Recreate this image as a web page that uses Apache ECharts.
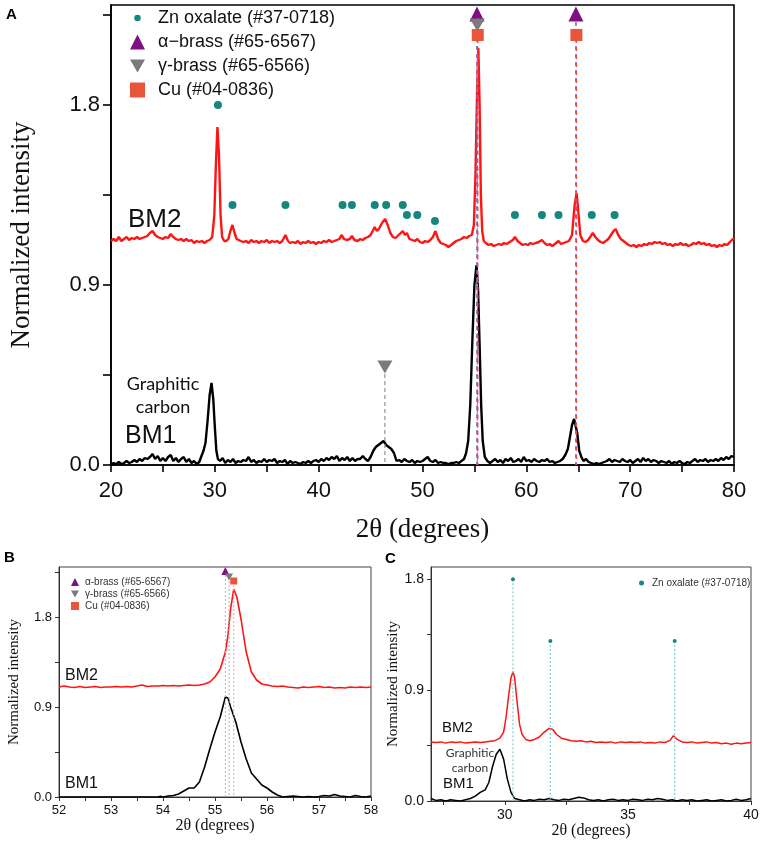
<!DOCTYPE html>
<html>
<head>
<meta charset="utf-8">
<script src="https://cdn.jsdelivr.net/npm/echarts@6/dist/echarts.min.js"></script>
<style>
  html, body { margin: 0; padding: 0; background: #fff; }
  #main { width: 765px; height: 843px; }
</style>
</head>
<body>
<div id="main"></div>
<script>
// 数据：[2θ, 归一化强度]
var bm2A = [[20,1.12],[20.25,1.13],[20.5,1.12],[20.75,1.14],[21,1.12],[21.25,1.13],[21.5,1.14],[21.75,1.125],[22,1.135],[22.25,1.13],[22.5,1.14],[22.75,1.13],[23,1.135],[23.25,1.14],[23.5,1.145],[23.75,1.16],[24,1.17],[24.25,1.15],[24.5,1.14],[24.75,1.135],[25,1.13],[25.25,1.14],[25.5,1.135],[25.75,1.155],[26,1.14],[26.25,1.13],[26.5,1.125],[26.75,1.13],[27,1.12],[27.25,1.13],[27.5,1.12],[27.75,1.125],[28,1.11],[28.25,1.12],[28.5,1.115],[28.75,1.12],[29,1.11],[29.25,1.12],[29.5,1.125],[29.75,1.14],[29.95,1.25],[30.1,1.5],[30.25,1.69],[30.4,1.55],[30.55,1.25],[30.7,1.14],[30.9,1.12],[31.1,1.12],[31.3,1.13],[31.5,1.17],[31.7,1.2],[31.9,1.16],[32.1,1.13],[32.3,1.125],[32.5,1.12],[32.75,1.115],[33,1.12],[33.25,1.11],[33.5,1.125],[33.75,1.115],[34,1.12],[34.25,1.11],[34.5,1.12],[34.75,1.115],[35,1.125],[35.25,1.11],[35.5,1.12],[35.75,1.115],[36,1.12],[36.25,1.11],[36.5,1.12],[36.8,1.15],[37.05,1.12],[37.25,1.11],[37.5,1.115],[37.75,1.11],[38,1.12],[38.25,1.105],[38.5,1.115],[38.75,1.11],[39,1.12],[39.25,1.11],[39.5,1.115],[39.75,1.105],[40,1.115],[40.25,1.11],[40.5,1.12],[40.75,1.115],[41,1.125],[41.25,1.115],[41.5,1.12],[41.75,1.125],[42,1.13],[42.2,1.15],[42.45,1.13],[42.7,1.125],[43,1.13],[43.2,1.145],[43.45,1.125],[43.75,1.12],[44,1.13],[44.25,1.125],[44.5,1.135],[44.75,1.14],[45,1.15],[45.2,1.17],[45.4,1.19],[45.6,1.17],[45.8,1.18],[46.1,1.21],[46.4,1.23],[46.65,1.2],[46.9,1.16],[47.15,1.14],[47.4,1.135],[47.7,1.15],[48.1,1.17],[48.3,1.15],[48.5,1.16],[48.75,1.13],[49,1.125],[49.25,1.12],[49.5,1.13],[49.75,1.115],[50,1.11],[50.25,1.12],[50.5,1.115],[50.75,1.125],[51,1.14],[51.25,1.17],[51.5,1.13],[51.75,1.11],[52,1.105],[52.25,1.1],[52.5,1.09],[52.75,1.1],[53,1.11],[53.25,1.12],[53.5,1.125],[53.75,1.13],[54,1.14],[54.25,1.135],[54.5,1.145],[54.75,1.15],[54.95,1.2],[55.1,1.45],[55.25,1.85],[55.38,2.085],[55.5,1.8],[55.62,1.35],[55.75,1.17],[55.9,1.12],[56.1,1.11],[56.35,1.1],[56.6,1.105],[56.85,1.095],[57.1,1.1],[57.35,1.105],[57.6,1.1],[57.85,1.11],[58.1,1.105],[58.4,1.115],[58.7,1.125],[58.9,1.14],[59.15,1.12],[59.4,1.11],[59.65,1.1],[59.9,1.105],[60.15,1.1],[60.4,1.11],[60.65,1.105],[60.9,1.11],[61.2,1.115],[61.5,1.125],[61.75,1.11],[62,1.1],[62.25,1.105],[62.5,1.095],[62.75,1.105],[63.1,1.12],[63.35,1.105],[63.6,1.11],[63.85,1.115],[64.1,1.12],[64.4,1.15],[64.65,1.3],[64.85,1.36],[65.0,1.27],[65.2,1.15],[65.45,1.12],[65.7,1.115],[65.95,1.125],[66.15,1.14],[66.4,1.16],[66.65,1.14],[66.9,1.125],[67.15,1.115],[67.4,1.11],[67.65,1.12],[67.9,1.13],[68.15,1.15],[68.4,1.17],[68.6,1.18],[68.85,1.15],[69.1,1.13],[69.35,1.12],[69.6,1.11],[69.85,1.1],[70.1,1.095],[70.35,1.1],[70.6,1.09],[70.85,1.1],[71.1,1.095],[71.35,1.105],[71.6,1.1],[71.85,1.11],[72.1,1.105],[72.35,1.115],[72.6,1.11],[72.85,1.115],[73.1,1.105],[73.35,1.11],[73.6,1.1],[73.85,1.105],[74.1,1.095],[74.35,1.105],[74.6,1.1],[74.85,1.11],[75.1,1.1],[75.35,1.105],[75.6,1.095],[75.85,1.1],[76.1,1.11],[76.35,1.105],[76.6,1.115],[76.85,1.105],[77.1,1.11],[77.35,1.1],[77.6,1.105],[77.85,1.095],[78.1,1.1],[78.35,1.09],[78.6,1.1],[78.85,1.095],[79.1,1.105],[79.35,1.1],[79.6,1.115],[79.8,1.125],[80,1.135]];

var bm1A = [[20,0.0],[20.25,0.01],[20.5,0.005],[20.75,0.015],[21,0.005],[21.25,0.01],[21.5,0.02],[21.75,0.01],[22,0.015],[22.25,0.025],[22.5,0.015],[22.75,0.03],[23,0.02],[23.25,0.035],[23.5,0.03],[23.75,0.04],[24,0.055],[24.25,0.03],[24.5,0.045],[24.75,0.02],[25,0.035],[25.25,0.02],[25.5,0.04],[25.75,0.05],[26,0.02],[26.25,0.035],[26.5,0.015],[26.75,0.03],[27,0.04],[27.25,0.015],[27.5,0.03],[27.75,0.01],[28,0.02],[28.25,0.005],[28.5,0.015],[28.75,0.05],[28.9,0.07],[29.1,0.11],[29.3,0.22],[29.5,0.35],[29.68,0.41],[29.85,0.33],[30.0,0.19],[30.15,0.07],[30.3,0.03],[30.5,0.02],[30.75,0.035],[31,0.01],[31.25,0.025],[31.5,0.015],[31.75,0.03],[32,0.01],[32.25,0.02],[32.5,0.015],[32.75,0.025],[33,0.02],[33.25,0.04],[33.5,0.015],[33.75,0.025],[34,0.01],[34.25,0.02],[34.5,0.015],[34.75,0.03],[35,0.015],[35.25,0.025],[35.5,0.02],[35.75,0.03],[36,0.01],[36.25,0.02],[36.5,0.015],[36.75,0.025],[37,0.005],[37.25,0.02],[37.5,0.01],[37.75,0.015],[38,0.01],[38.25,0.005],[38.5,0.015],[38.75,0.01],[39,0.02],[39.25,0.01],[39.5,0.02],[39.75,0.025],[40,0.015],[40.25,0.03],[40.5,0.02],[40.75,0.035],[41,0.025],[41.25,0.04],[41.5,0.03],[41.75,0.045],[42,0.02],[42.25,0.035],[42.5,0.025],[42.75,0.04],[43,0.02],[43.25,0.035],[43.5,0.02],[43.75,0.03],[44,0.03],[44.25,0.045],[44.5,0.03],[44.75,0.02],[45,0.04],[45.25,0.07],[45.5,0.09],[45.75,0.1],[46,0.11],[46.25,0.12],[46.5,0.1],[46.75,0.09],[47,0.08],[47.25,0.06],[47.5,0.02],[47.75,0.025],[48,0.015],[48.25,0.03],[48.5,0.02],[48.75,0.015],[49,0.025],[49.25,0.01],[49.5,0.02],[49.75,0.015],[50,0.02],[50.25,0.03],[50.5,0.04],[50.75,0.02],[51,0.015],[51.25,0.025],[51.5,0.01],[51.75,0.015],[52,0.01],[52.25,0.01],[52.5,0.005],[52.75,0.01],[53,0.01],[53.25,0.015],[53.5,0.01],[53.75,0.02],[54,0.03],[54.2,0.06],[54.4,0.12],[54.6,0.3],[54.8,0.62],[55.0,0.9],[55.2,1.0],[55.35,0.88],[55.5,0.6],[55.65,0.3],[55.8,0.12],[56.0,0.04],[56.25,0.02],[56.5,0.01],[56.75,0.02],[57,0.03],[57.25,0.015],[57.5,0.025],[57.75,0.01],[58,0.03],[58.25,0.02],[58.5,0.035],[58.75,0.015],[59,0.02],[59.25,0.03],[59.5,0.015],[59.75,0.04],[60,0.02],[60.25,0.025],[60.5,0.015],[60.75,0.03],[61,0.02],[61.25,0.015],[61.5,0.025],[61.75,0.02],[62,0.03],[62.25,0.015],[62.5,0.02],[62.75,0.01],[63,0.015],[63.25,0.02],[63.5,0.03],[63.75,0.05],[64,0.08],[64.2,0.14],[64.4,0.2],[64.6,0.23],[64.75,0.22],[64.9,0.16],[65.1,0.07],[65.3,0.04],[65.5,0.02],[65.75,0.03],[66,0.015],[66.25,0.01],[66.5,0.005],[66.75,0.01],[67,0.005],[67.25,0.01],[67.5,0.015],[67.75,0.02],[68,0.03],[68.25,0.015],[68.5,0.025],[68.75,0.02],[69,0.015],[69.25,0.03],[69.5,0.02],[69.75,0.015],[70,0.025],[70.25,0.01],[70.5,0.02],[70.75,0.03],[71,0.015],[71.25,0.035],[71.5,0.02],[71.75,0.03],[72,0.015],[72.25,0.025],[72.5,0.02],[72.75,0.01],[73,0.02],[73.25,0.015],[73.5,0.01],[73.75,0.02],[74,0.005],[74.25,0.015],[74.5,0.01],[74.75,0.02],[75,0.01],[75.25,0.005],[75.5,0.015],[75.75,0.01],[76,0.02],[76.25,0.03],[76.5,0.015],[76.75,0.025],[77,0.02],[77.25,0.03],[77.5,0.015],[77.75,0.025],[78,0.02],[78.25,0.03],[78.5,0.02],[78.75,0.035],[79,0.025],[79.25,0.04],[79.5,0.03],[79.75,0.045],[80,0.04]];

var bm2B = [[52,1.1],[52.1,1.11],[52.2,1.1],[52.3,1.095],[52.4,1.105],[52.5,1.095],[52.6,1.1],[52.7,1.105],[52.8,1.095],[52.9,1.1],[53,1.1],[53.1,1.105],[53.2,1.1],[53.3,1.105],[53.4,1.1],[53.5,1.11],[53.6,1.12],[53.7,1.105],[53.8,1.11],[53.9,1.11],[54,1.115],[54.1,1.11],[54.2,1.115],[54.3,1.11],[54.4,1.115],[54.5,1.12],[54.6,1.115],[54.7,1.12],[54.8,1.13],[54.9,1.15],[55.0,1.2],[55.1,1.28],[55.2,1.45],[55.25,1.62],[55.3,1.88],[55.36,2.08],[55.42,2.0],[55.5,1.78],[55.6,1.45],[55.7,1.25],[55.8,1.17],[55.9,1.13],[56.0,1.12],[56.1,1.11],[56.2,1.105],[56.3,1.11],[56.4,1.1],[56.5,1.095],[56.6,1.09],[56.7,1.1],[56.8,1.095],[56.9,1.1],[57.0,1.105],[57.1,1.095],[57.2,1.1],[57.3,1.09],[57.4,1.095],[57.5,1.09],[57.6,1.1],[57.7,1.095],[57.8,1.1],[57.9,1.095],[58,1.1]];

var bm1B = [[52,0.0],[53.9,0.0],[53.95,0.006],[54.0,0.0],[54.1,0.01],[54.2,0.015],[54.3,0.03],[54.4,0.06],[54.5,0.09],[54.6,0.09],[54.7,0.15],[54.8,0.3],[54.9,0.48],[55.0,0.65],[55.1,0.8],[55.2,1.0],[55.25,0.99],[55.3,0.9],[55.4,0.75],[55.5,0.55],[55.6,0.38],[55.7,0.24],[55.8,0.18],[55.9,0.12],[56.0,0.09],[56.1,0.05],[56.2,0.02],[56.3,0.0],[56.4,0.005],[56.5,0.01],[56.6,0.005],[56.7,0.0],[56.8,0.005],[56.9,0.0],[57.0,0.005],[57.1,0.015],[57.2,0.01],[57.3,0.025],[57.4,0.01],[57.5,0.005],[57.6,0.0],[57.7,0.015],[57.8,0.005],[57.9,0.0],[58,0.01]];

var bm2C = [[27,0.48],[27.2,0.475],[27.4,0.48],[27.6,0.47],[27.8,0.48],[28,0.475],[28.2,0.48],[28.4,0.47],[28.6,0.475],[28.8,0.48],[29,0.475],[29.2,0.48],[29.4,0.485],[29.6,0.49],[29.8,0.51],[29.95,0.56],[30.05,0.68],[30.15,0.85],[30.25,1.0],[30.33,1.05],[30.4,1.0],[30.5,0.8],[30.6,0.62],[30.7,0.54],[30.85,0.5],[31.0,0.49],[31.2,0.5],[31.4,0.52],[31.6,0.56],[31.8,0.59],[31.95,0.58],[32.1,0.54],[32.3,0.51],[32.5,0.5],[32.7,0.49],[32.9,0.485],[33.1,0.49],[33.3,0.48],[33.5,0.485],[33.7,0.475],[33.9,0.48],[34.1,0.475],[34.3,0.48],[34.5,0.47],[34.7,0.48],[34.9,0.475],[35.1,0.48],[35.3,0.475],[35.5,0.48],[35.7,0.47],[35.9,0.475],[36.1,0.47],[36.3,0.48],[36.5,0.475],[36.7,0.49],[36.85,0.53],[37.0,0.5],[37.2,0.48],[37.4,0.475],[37.6,0.48],[37.8,0.47],[38,0.475],[38.2,0.48],[38.4,0.47],[38.6,0.475],[38.8,0.465],[39,0.47],[39.2,0.46],[39.4,0.47],[39.6,0.465],[39.8,0.47],[40,0.475]];

var bm1C = [[27,0.02],[27.2,0.005],[27.4,0.01],[27.6,0.0],[27.8,0.01],[28.0,0.005],[28.2,0.0],[28.4,0.01],[28.6,0.02],[28.8,0.04],[29.0,0.07],[29.2,0.09],[29.35,0.15],[29.5,0.28],[29.65,0.38],[29.8,0.42],[29.95,0.34],[30.1,0.18],[30.25,0.07],[30.4,0.02],[30.6,0.01],[30.8,0.0],[31.0,0.01],[31.2,0.005],[31.4,0.015],[31.6,0.01],[31.8,0.02],[32.0,0.01],[32.2,0.005],[32.4,0.015],[32.6,0.01],[32.8,0.02],[33.0,0.03],[33.2,0.025],[33.4,0.01],[33.6,0.005],[33.8,0.01],[34.0,0.0],[34.2,0.01],[34.4,0.015],[34.6,0.005],[34.8,0.01],[35.0,0.005],[35.2,0.015],[35.4,0.01],[35.6,0.005],[35.8,0.015],[36.0,0.01],[36.2,0.02],[36.4,0.015],[36.6,0.005],[36.8,0.01],[37.0,0.0],[37.2,0.01],[37.4,0.005],[37.6,0.01],[37.8,0.0],[38.0,0.005],[38.2,0.01],[38.4,0.0],[38.6,0.005],[38.8,0.01],[39.0,0.0],[39.2,0.005],[39.4,0.015],[39.6,0.005],[39.8,0.01],[40,0.02]];

// 标准卡片位置（标记点）
var znA = [[30.3,1.8],[31.7,1.3],[36.8,1.3],[42.3,1.3],[43.2,1.3],[45.4,1.3],[46.5,1.3],[48.1,1.3],[48.5,1.25],[49.5,1.25],[51.2,1.22],[58.9,1.25],[61.5,1.25],[63.1,1.25],[66.3,1.25],[68.5,1.25]];
var alphaA = [[55.25,2.255],[64.78,2.255]];
var gammaA = [[55.28,2.2],[46.38,0.49]];
var cuA = [[55.32,2.15],[64.82,2.15]];

var alphaB = [[55.2,2.26]];
var gammaB = [[55.27,2.2]];
var cuB = [[55.36,2.16]];

var znC = [[30.33,1.8],[31.85,1.3],[36.9,1.3]];

// 刻度
var xTicksA = [20,25,30,35,40,45,50,55,60,65,70,75,80];
var xLabelsA = [20,30,40,50,60,70,80];
var xTicksB = [52,52.5,53,53.5,54,54.5,55,55.5,56,56.5,57,57.5,58];
var xLabelsB = [52,53,54,55,56,57,58];
var xTicksC = [27.5,30,32.5,35,37.5,40];
var xLabelsC = [30,35,40];
var yTicks = [0,0.45,0.9,1.35,1.8,2.25];
var yLabels = [0,0.9,1.8];

var nameZn = 'Zn oxalate (#37-0718)';
var nameAlphaA = 'α−brass (#65-6567)';
var nameAlphaB = 'α-brass (#65-6567)';
var nameGamma = 'γ-brass (#65-6566)';
var nameCu = 'Cu (#04-0836)';

var downTri = 'path://M0,0L20,0L10,17.3Z';
// 图例里的小圆点：用空的 moveTo 撑开边框
var smallDot = 'path://M0,0M16,16M4.5,8A3.5,3.5,0,1,1,11.5,8A3.5,3.5,0,1,1,4.5,8Z';
var cTeal = '#15877f', cPurple = '#7f0f85', cGray = '#7a7a7a', cCu = '#e8553a', cRed = '#ff1414';

var myChart = echarts.init(document.getElementById('main'));

function xAxisOf(grid, min, max, ticks, labels, big) {
  return {
    gridIndex: grid, type: 'value', min: min, max: max,
    axisLine: { show: true, onZero: false, lineStyle: { color: big ? '#000' : '#333', width: big ? 1.6 : 1 } },
    axisTick: { show: true, customValues: ticks, length: big ? 7 : 4, lineStyle: { color: big ? '#000' : '#333', width: big ? 1.6 : 1 } },
    axisLabel: { customValues: labels, fontFamily: 'Liberation Sans', fontSize: big ? 22 : (grid == 1 ? 13 : 14), color: '#111', margin: big ? 15 : 7 },
    splitLine: { show: false },
    name: '2θ (degrees)', nameLocation: 'middle', nameGap: big ? 51 : 17,
    nameTextStyle: { fontFamily: 'Liberation Serif', fontSize: big ? 27 : 16, color: '#111' }
  };
}

function yAxisOf(grid, max, gap, big) {
  return {
    gridIndex: grid, type: 'value', min: 0, max: max,
    axisLine: { show: true, onZero: false, lineStyle: { color: big ? '#000' : '#333', width: big ? 1.6 : 1 } },
    axisTick: { show: true, customValues: yTicks.filter(function (v) { return v <= max; }), length: big ? 8 : 4, lineStyle: { color: big ? '#000' : '#333', width: big ? 1.6 : 1 } },
    axisLabel: { customValues: yLabels, formatter: function (v) { return v.toFixed(1); }, fontFamily: 'Liberation Sans', fontSize: big ? 22 : (grid == 1 ? 13 : 14), color: '#111', margin: big ? 11 : 7 },
    splitLine: { show: false },
    name: 'Normalized intensity', nameLocation: 'middle', nameGap: gap,
    nameTextStyle: { fontFamily: 'Liberation Serif', fontSize: big ? 27 : 15, color: '#111' }
  };
}

function curve(name, idx, data, color, w) {
  return { name: name, type: 'line', xAxisIndex: idx, yAxisIndex: idx, data: data, showSymbol: false, symbol: 'none',
    lineStyle: { color: color, width: w }, itemStyle: { color: color }, z: 2, silent: true };
}

function marks(name, idx, data, symbol, size, color) {
  return { name: name, type: 'scatter', xAxisIndex: idx, yAxisIndex: idx, data: data, symbol: symbol, symbolSize: size,
    itemStyle: { color: color, opacity: 1 }, z: 5, silent: true };
}

// 从标记点向下画到 0 的参考线
function guides(idx, pts, color, type, w, offset) {
  return pts.map(function (p) {
    return { type: 'line', xAxisIndex: idx, yAxisIndex: idx, data: [[p[0], p[1]], [p[0], 0]], showSymbol: false, symbol: 'none',
      lineStyle: { color: color, width: w, type: type, dashOffset: offset || 0 }, z: 4, silent: true };
  });
}

var series = [
  curve('BM2', 0, bm2A, cRed, 2.4),
  curve('BM1', 0, bm1A, '#000', 2.4),
  curve('BM2 ', 1, bm2B, cRed, 1.6),
  curve('BM1 ', 1, bm1B, '#000', 1.6),
  curve('BM2  ', 2, bm2C, cRed, 1.5),
  curve('BM1  ', 2, bm1C, '#000', 1.5)
];
series = series
  .concat(guides(0, gammaA, '#9a9a9a', [4, 3], 1.3))
  .concat(guides(0, alphaA, '#8e4fc0', [4, 4], 1.5, 0))
  .concat(guides(0, cuA, '#ee4a4a', [4, 4], 1.5, 4))
  .concat(guides(1, alphaB, '#c7a6e6', [2, 2], 1))
  .concat(guides(1, gammaB, '#b0b0b0', [2, 2], 1))
  .concat(guides(1, cuB, '#f3a0a0', [2, 2], 1))
  .concat(guides(2, znC, '#7ccfd0', [2, 2], 1.2));
series.push(
  marks(nameZn, 0, znA, 'circle', 8, cTeal),
  marks(nameAlphaA, 0, alphaA, 'triangle', 15, cPurple),
  marks(nameGamma, 0, gammaA, downTri, [15, 13], cGray),
  marks(nameCu, 0, cuA, 'rect', 12, cCu),
  marks(nameAlphaB, 1, alphaB, 'triangle', 8, cPurple),
  marks(nameGamma, 1, gammaB, downTri, [8, 7], cGray),
  marks(nameCu, 1, cuB, 'rect', 7, cCu),
  marks(nameZn, 2, znC, 'circle', 4, cTeal)
);

var option = {
  backgroundColor: '#fff',
  animation: false,
  grid: [
    { left: 110, top: 5, width: 624, height: 460, show: true, borderColor: '#000', borderWidth: 1.6, backgroundColor: 'transparent' },
    { left: 59, top: 567, width: 312, height: 230, show: true, borderColor: '#444', borderWidth: 1, backgroundColor: 'transparent' },
    { left: 431, top: 567, width: 320, height: 234, show: true, borderColor: '#444', borderWidth: 1, backgroundColor: 'transparent' }
  ],
  xAxis: [
    xAxisOf(0, 20, 80, xTicksA, xLabelsA, true),
    xAxisOf(1, 52, 58, xTicksB, xLabelsB, false),
    xAxisOf(2, 27, 40, xTicksC, xLabelsC, false)
  ],
  yAxis: [
    yAxisOf(0, 2.3, 76, true),
    yAxisOf(1, 2.3, 37, false),
    yAxisOf(2, 1.9, 30, false)
  ],
  legend: [
    { orient: 'vertical', left: 125, top: 4, itemWidth: 15, itemHeight: 15, itemGap: 6, selectedMode: false,
      textStyle: { fontFamily: 'Liberation Sans', fontSize: 18, color: '#111', padding: [0, 0, 0, 8] },
      data: [{ name: nameZn, icon: smallDot }, { name: nameAlphaA, icon: 'triangle' }, { name: nameGamma, icon: downTri }, { name: nameCu, icon: 'rect' }] },
    { orient: 'vertical', left: 66, top: 572, itemWidth: 8, itemHeight: 8, itemGap: 2, selectedMode: false,
      textStyle: { fontFamily: 'Liberation Sans', fontSize: 10, color: '#333', padding: [0, 0, 0, 1] },
      data: [{ name: nameAlphaB, icon: 'triangle' }, { name: nameGamma, icon: downTri }, { name: nameCu, icon: 'rect' }] },
    { orient: 'vertical', left: 634, top: 573, itemWidth: 5, itemHeight: 5, selectedMode: false,
      textStyle: { fontFamily: 'Liberation Sans', fontSize: 10, color: '#333', padding: [0, 0, 0, 3] },
      data: [{ name: nameZn, icon: 'circle' }] }
  ],
  graphic: [
    { type: 'text', x: 6, y: 7, style: { text: 'A', font: 'bold 15px "Liberation Sans"', fill: '#000' } },
    { type: 'text', x: 128, y: 220, style: { text: 'BM2', font: '26px "Liberation Sans"', fill: '#111', verticalAlign: 'middle' } },
    { type: 'text', x: 163, y: 373, style: { text: 'Graphitic\ncarbon', font: '18px Lato', lineHeight: 23, fill: '#111', align: 'center' } },
    { type: 'text', x: 125, y: 436, style: { text: 'BM1', font: '25px "Liberation Sans"', fill: '#111', verticalAlign: 'middle' } },
    { type: 'text', x: 4, y: 550, style: { text: 'B', font: 'bold 15px "Liberation Sans"', fill: '#000' } },
    { type: 'text', x: 65, y: 676, style: { text: 'BM2', font: '16px "Liberation Sans"', fill: '#111', verticalAlign: 'middle' } },
    { type: 'text', x: 65, y: 784, style: { text: 'BM1', font: '16px "Liberation Sans"', fill: '#111', verticalAlign: 'middle' } },
    { type: 'text', x: 385, y: 551, style: { text: 'C', font: 'bold 15px "Liberation Sans"', fill: '#000' } },
    { type: 'text', x: 442, y: 728, style: { text: 'BM2', font: '15px "Liberation Sans"', fill: '#111', verticalAlign: 'middle' } },
    { type: 'text', x: 470, y: 746, style: { text: 'Graphitic\ncarbon', font: '12px Lato', lineHeight: 15, fill: '#333', align: 'center' } },
    { type: 'text', x: 443, y: 784, style: { text: 'BM1', font: '15px "Liberation Sans"', fill: '#111', verticalAlign: 'middle' } }
  ],
  series: series
};

myChart.setOption(option);
</script>
</body>
</html>
